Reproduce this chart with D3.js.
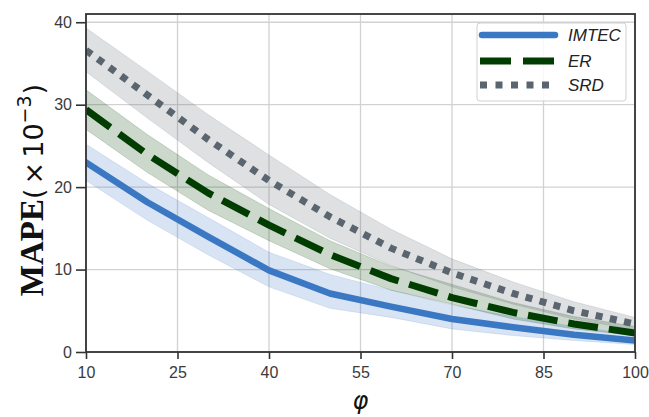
<!DOCTYPE html>
<html>
<head>
<meta charset="utf-8">
<script src="https://cdn.jsdelivr.net/npm/d3@7"></script>
<style>
html,body{margin:0;padding:0;background:#fff}
svg{display:block}
.tick text{font-family:"Liberation Sans",Arial,sans-serif;font-size:16px;fill:#3a3a3a}
</style>
</head>
<body>
<div id="chart"></div>
<script>
// phi values on x axis
const phi=[10,20,30,40,50,60,70,80,90,100];
const xTicks=[10,25,40,55,70,85,100];
const yTicks=[0,10,20,30,40];
// mean MAPE (x1e-3) and band limits per method
const imtec=[23.0,18.2,14.0,9.9,7.1,5.5,4.0,3.0,2.1,1.4];
const imtecHi=[25.2,20.5,16.3,12.1,9.4,7.5,5.7,4.3,3.1,2.1];
const imtecLo=[20.8,16.0,11.8,7.9,5.3,4.2,2.8,2.0,1.4,0.9];
const er=[29.4,24.0,19.3,15.4,11.8,8.9,6.6,4.8,3.4,2.3];
const erHi=[31.8,26.4,21.5,17.4,13.5,10.4,8.2,6.0,4.3,3.1];
const erLo=[27.0,21.8,17.2,13.5,10.1,7.5,5.8,4.0,2.8,2.0];
const srd=[36.6,31.2,25.8,20.8,16.4,12.6,9.6,7.1,5.0,3.4];
const srdHi=[39.3,34.1,28.8,23.9,19.1,14.9,11.3,8.5,6.1,4.2];
const srdLo=[34.0,28.4,23.0,17.9,13.8,10.5,7.9,5.8,4.0,2.7];
const names=['IMTEC','ER','SRD'];

const W=649,H=417,m={t:14,r:14,b:65,l:86};
const svg=d3.select('#chart').append('svg').attr('width',W).attr('height',H);
const x=d3.scaleLinear().domain([10,100]).range([m.l,W-m.r]);
const y=d3.scaleLinear().domain([0,41]).range([H-m.b,m.t]);

svg.append('defs').append('clipPath').attr('id','clip')
  .append('rect').attr('x',m.l).attr('y',m.t).attr('width',W-m.l-m.r).attr('height',H-m.t-m.b);

// grid
const g=svg.append('g');
g.selectAll('.vg').data(xTicks).join('line').attr('x1',d=>x(d)).attr('x2',d=>x(d)).attr('y1',m.t).attr('y2',H-m.b).attr('stroke','#d2d2d2').attr('stroke-width',1.3);
g.selectAll('.hg').data(yTicks).join('line').attr('y1',d=>y(d)).attr('y2',d=>y(d)).attr('x1',m.l).attr('x2',W-m.r).attr('stroke','#d2d2d2').attr('stroke-width',1.3);

const series=[
  {name:'IMTEC',v:imtec,hi:imtecHi,lo:imtecLo,c:'#3a78c4',w:6.5,dash:null,cap:'round'},
  {name:'ER',v:er,hi:erHi,lo:erLo,c:'#013d01',w:7,dash:'30,11',cap:'butt'},
  {name:'SRD',v:srd,hi:srdHi,lo:srdLo,c:'#5a6570',w:7,dash:'7,7.5',cap:'butt'}
];
const plot=svg.append('g').attr('clip-path','url(#clip)');
const area=d3.area().x((d,i)=>x(phi[i])).y0(d=>y(d[0])).y1(d=>y(d[1]));
const line=d3.line().x((d,i)=>x(phi[i])).y(d=>y(d));
series.forEach(s=>{
  plot.append('path').datum(s.lo.map((l,i)=>[l,s.hi[i]])).attr('d',area)
    .attr('fill',s.c).attr('fill-opacity',0.2).attr('stroke',s.c).attr('stroke-opacity',0.15).attr('stroke-width',1);
});
series.forEach(s=>{
  plot.append('path').datum(s.v).attr('d',line).attr('fill','none').attr('stroke',s.c)
    .attr('stroke-width',s.w).attr('stroke-dasharray',s.dash).attr('stroke-linecap',s.cap).attr('stroke-linejoin','round');
});

// axes
const xa=svg.append('g').attr('transform',`translate(0,${H-m.b})`)
  .call(d3.axisBottom(x).tickValues(xTicks).tickSize(7).tickPadding(8).tickFormat(d3.format('d')));
const ya=svg.append('g').attr('transform',`translate(${m.l},0)`)
  .call(d3.axisLeft(y).tickValues(yTicks).tickSize(10).tickPadding(4).tickFormat(d3.format('d')));
[xa,ya].forEach(a=>{a.select('.domain').remove();a.selectAll('.tick line').attr('stroke','#333').attr('stroke-width',1.6)});

svg.append('rect').attr('x',m.l).attr('y',m.t).attr('width',W-m.l-m.r).attr('height',H-m.t-m.b)
  .attr('fill','none').attr('stroke','#333').attr('stroke-width',1.8);

// labels
svg.append('text').attr('x',x(55)).attr('y',409).attr('text-anchor','middle')
  .style('font-family','"DejaVu Sans",sans-serif').style('font-style','italic').style('font-size','24px').attr('fill','#111').text('φ');
const yl=svg.append('text').attr('transform','translate(43,190) rotate(-90)').attr('text-anchor','middle').attr('fill','#111');
yl.append('tspan').style('font-family','"Liberation Serif","Times New Roman",serif').style('font-weight','bold').style('font-size','33px').text('MAPE');
yl.append('tspan').style('font-family','"DejaVu Sans",sans-serif').style('font-size','27px').text('(');
yl.append('tspan').style('font-family','"DejaVu Sans",sans-serif').style('font-size','27px').attr('dx',4).text('×');
yl.append('tspan').style('font-family','"DejaVu Sans",sans-serif').style('font-size','27px').attr('dx',4).text('10');
yl.append('tspan').style('font-family','"DejaVu Sans",sans-serif').style('font-size','19px').attr('dy',-12).text('−3');
yl.append('tspan').style('font-family','"DejaVu Sans",sans-serif').style('font-size','27px').attr('dy',12).attr('dx',1).text(')');

// legend
const lg=svg.append('g');
lg.append('rect').attr('x',477).attr('y',23).attr('width',149).attr('height',78).attr('rx',3)
  .attr('fill','#fff').attr('fill-opacity',0.85).attr('stroke','#d0d0d0').attr('stroke-width',1);
const ly=[35,61,85];
series.forEach((s,i)=>{
  lg.append('line').attr('x1',s.cap==='round'?482:480).attr('x2',s.cap==='round'?555:557).attr('y1',ly[i]).attr('y2',ly[i])
    .attr('stroke',s.c).attr('stroke-width',s.w).attr('stroke-dasharray',s.name==='ER'?'31,12':s.name==='SRD'?'7,8.5':null).attr('stroke-linecap',s.cap);
  lg.append('text').attr('x',568).attr('y',ly[i]).attr('dy','0.36em')
    .style('font-family','"Liberation Sans",Arial,sans-serif').style('font-style','italic').style('font-size','17px').attr('fill','#222').text(names[i]);
});
</script>
</body>
</html>
